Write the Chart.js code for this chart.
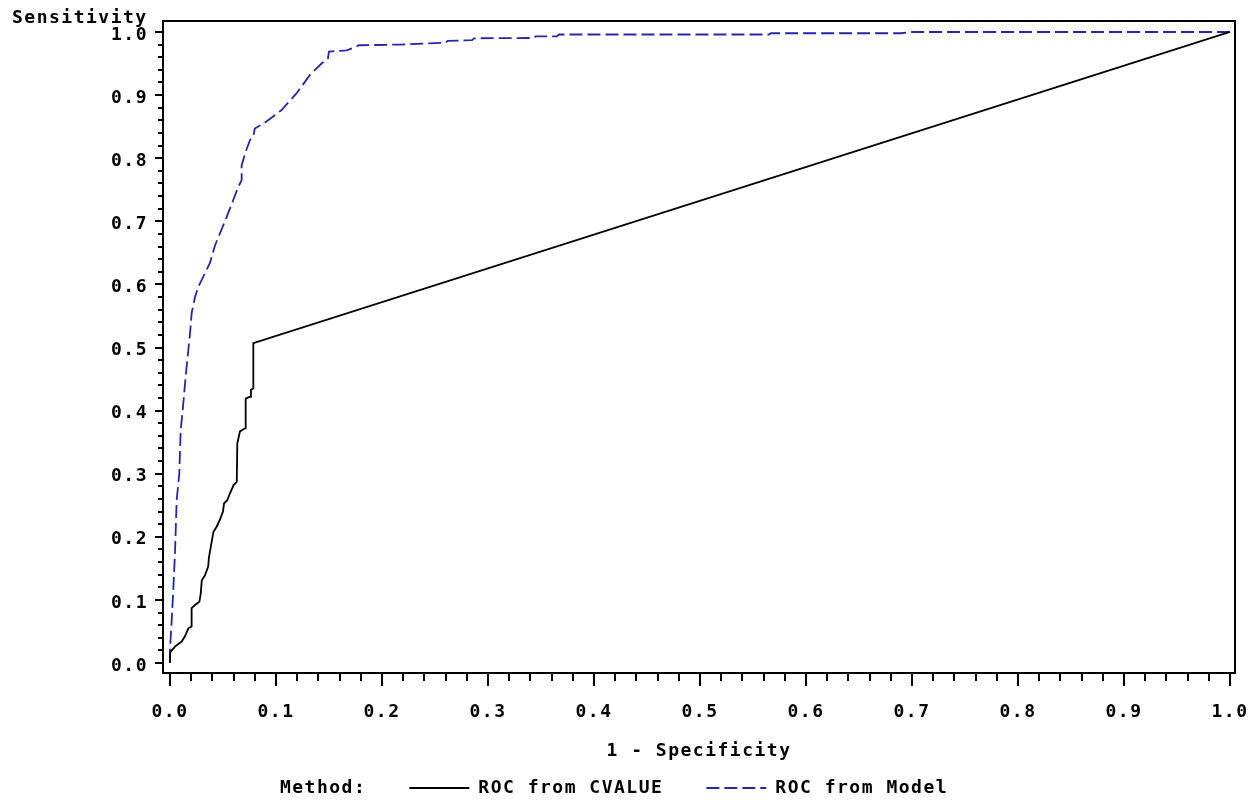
<!DOCTYPE html>
<html>
<head>
<meta charset="utf-8">
<title>ROC</title>
<script src="https://cdn.jsdelivr.net/npm/chart.js@4.4.1/dist/chart.umd.min.js"></script>
<style>
  html, body { margin:0; padding:0; background:#fff; }
  canvas { display:block; }
</style>
</head>
<body>
<canvas id="roc" width="1250" height="803"></canvas>
<script>
// -------------------------------------------
//  DADOS
// -------------------------------------------

var cvalueFpr = [0, 0, 0.0006, 0.0047, 0.011, 0.014, 0.0173, 0.0204, 0.0204, 0.0236, 0.0277, 0.029, 0.030, 0.033, 0.036, 0.0368,
                 0.0393, 0.041, 0.044, 0.047, 0.050, 0.051, 0.054, 0.0566, 0.060, 0.063, 0.0635, 0.066, 0.0708, 0.0714,
                 0.0755, 0.0764, 0.0786, 0.0786, 1.0]
var cvalueTpr = [0, 0.013, 0.018, 0.026, 0.034, 0.042, 0.055, 0.058, 0.087, 0.092, 0.097, 0.110, 0.131, 0.139, 0.153, 0.168,
                 0.192, 0.208, 0.216, 0.227, 0.240, 0.253, 0.258, 0.269, 0.282, 0.287, 0.348, 0.367, 0.372, 0.419,
                 0.422, 0.433, 0.435, 0.507, 1.0]

var modelFpr = [0, 0, 0.0016, 0.0031, 0.0047, 0.0063, 0.0088, 0.0101, 0.012, 0.0142, 0.0157, 0.0189, 0.0204, 0.0236, 0.0267,
                0.0377, 0.0425, 0.0535, 0.0645, 0.0676, 0.0676, 0.072, 0.0755, 0.0786, 0.080, 0.091, 0.105, 0.1195, 0.132,
                0.143, 0.149, 0.150, 0.1667, 0.176, 0.178, 0.217, 0.260, 0.262, 0.285, 0.287, 0.343, 0.345, 0.365, 0.367,
                0.565, 0.567, 0.690, 0.700, 1.0]
var modelTpr = [0.002, 0.021, 0.068, 0.116, 0.174, 0.258, 0.301, 0.369, 0.401, 0.443, 0.470, 0.522, 0.554, 0.580, 0.596,
                0.634, 0.662, 0.707, 0.755, 0.765, 0.789, 0.813, 0.829, 0.834, 0.847, 0.858, 0.876, 0.903, 0.932,
                0.950, 0.958, 0.969, 0.971, 0.977, 0.979, 0.980, 0.983, 0.986, 0.987, 0.990, 0.9905, 0.993, 0.993, 0.996,
                0.996, 0.998, 0.998, 1.0, 1.0]

var tickValues = [0, 0.1, 0.2, 0.3, 0.4, 0.5, 0.6, 0.7, 0.8, 0.9, 1.0]
var tickLabels = ["0.0", "0.1", "0.2", "0.3", "0.4", "0.5", "0.6", "0.7", "0.8", "0.9", "1.0"]
var seriesNames = ["ROC from CVALUE", "ROC from Model"]
var legendLead = "Method:"
var xTitle = "1 - Specificity"
var yTitle = "Sensitivity"

// -------------------------------------------
//  GRAFICO
// -------------------------------------------

const ModRoc = (function() {

    var fonte = { family: "'DejaVu Sans Mono', 'Liberation Mono', monospace", size: 18, weight: "bold" }
    var espaco = "1.5px"
    var legendDx = -44
    var legendDy = 4

    function pontos(xs, ys) {
        var out = []
        for (var i=0; i<xs.length; i++) out.push({ x: xs[i], y: ys[i] })
        return out
    }

    function fixarTicks(scale) {
        scale.ticks = tickValues.map(function(v) { return { value: v } })
    }

    var moldura = {
        id: "moldura",
        beforeUpdate: function(chart) { chart.ctx.letterSpacing = espaco },
        beforeDraw: function(chart) { chart.ctx.letterSpacing = espaco },
        afterLayout: function(chart) {
            var lg = chart.legend
            lg.left += legendDx; lg.right += legendDx
            lg.top += legendDy; lg.bottom += legendDy
        },
        afterDraw: function(chart) {
            var ctx = chart.ctx, a = chart.chartArea
            var sx = chart.scales.x, sy = chart.scales.y
            ctx.save()
            ctx.strokeStyle = "#000"
            ctx.lineWidth = 2
            ctx.strokeRect(a.left, a.top, a.right - a.left, a.bottom - a.top)
            ctx.beginPath()
            // marcas de 0.02 em 0.02, maiores a cada 0.1
            for (var i=0; i<=50; i++) {
                var maior = i % 5 === 0
                var px = Math.round(sx.getPixelForValue(i / 50))
                ctx.moveTo(px, a.bottom); ctx.lineTo(px, a.bottom + (maior ? 13 : 8))
                var py = Math.round(sy.getPixelForValue(i / 50))
                ctx.moveTo(a.left, py); ctx.lineTo(a.left - (maior ? 8 : 5), py)
            }
            ctx.stroke()
            ctx.restore()
        }
    }

    function init() {
        var el = document.getElementById("roc")
        Chart.defaults.font = fonte
        Chart.defaults.color = "#000"

        new Chart(el, {
            type: "line",
            data: {
                datasets: [
                    { label: seriesNames[0], data: pontos(cvalueFpr, cvalueTpr), borderColor: "#000", borderWidth: 1.8,
                      pointRadius: 0, fill: false, tension: 0 },
                    { label: seriesNames[1], data: pontos(modelFpr, modelTpr), borderColor: "#2626aa", borderWidth: 1.8,
                      borderDash: [13, 5], pointRadius: 0, fill: false, tension: 0 }
                ]
            },
            options: {
                responsive: false,
                animation: false,
                layout: { padding: { left: 12, right: 15, top: 0, bottom: 0 } },
                plugins: {
                    tooltip: { enabled: false },
                    title: { display: true, text: yTitle, align: "start", font: fonte, padding: { top: 7.5, bottom: -8.1 } },
                    legend: {
                        position: "bottom",
                        labels: {
                            usePointStyle: true, pointStyle: "line", pointStyleWidth: 60, padding: 43, font: fonte, color: "#000",
                            generateLabels: function(chart) {
                                var itens = Chart.defaults.plugins.legend.labels.generateLabels(chart)
                                itens.forEach(function(it) {
                                    var ds = chart.data.datasets[it.datasetIndex]
                                    it.lineDash = ds.borderDash || []
                                    it.lineWidth = ds.borderWidth
                                    it.strokeStyle = ds.borderColor
                                })
                                itens.unshift({ text: legendLead, fillStyle: "rgba(0,0,0,0)", strokeStyle: "rgba(0,0,0,0)",
                                                lineWidth: 0, pointStyle: "line", hidden: false })
                                return itens
                            }
                        }
                    }
                },
                scales: {
                    x: {
                        type: "linear", min: -0.0066, max: 1.0047,
                        afterBuildTicks: fixarTicks,
                        afterFit: function(s) { s.height = 59; s.paddingLeft = 0; s.paddingRight = 0 },
                        grid: { display: false, drawTicks: false },
                        border: { display: false },
                        ticks: { padding: 29, maxRotation: 0, autoSkip: false, font: fonte,
                                 callback: function(v, i) { return tickLabels[i] } },
                        title: { display: true, text: xTitle, font: fonte, padding: { top: 0, bottom: -30 } }
                    },
                    y: {
                        type: "linear", min: -0.0158, max: 1.0174,
                        afterBuildTicks: fixarTicks,
                        afterFit: function(s) { s.width = 151; s.paddingTop = 0; s.paddingBottom = 0 },
                        grid: { display: false, drawTicks: false },
                        border: { display: false },
                        ticks: { padding: 15, autoSkip: false, labelOffset: 3, font: fonte,
                                 callback: function(v, i) { return tickLabels[i] } }
                    }
                }
            },
            plugins: [moldura]
        })
    }

    return { init: init }

})()

document.addEventListener("DOMContentLoaded", function() {
    ModRoc.init()
})
</script>
</body>
</html>
